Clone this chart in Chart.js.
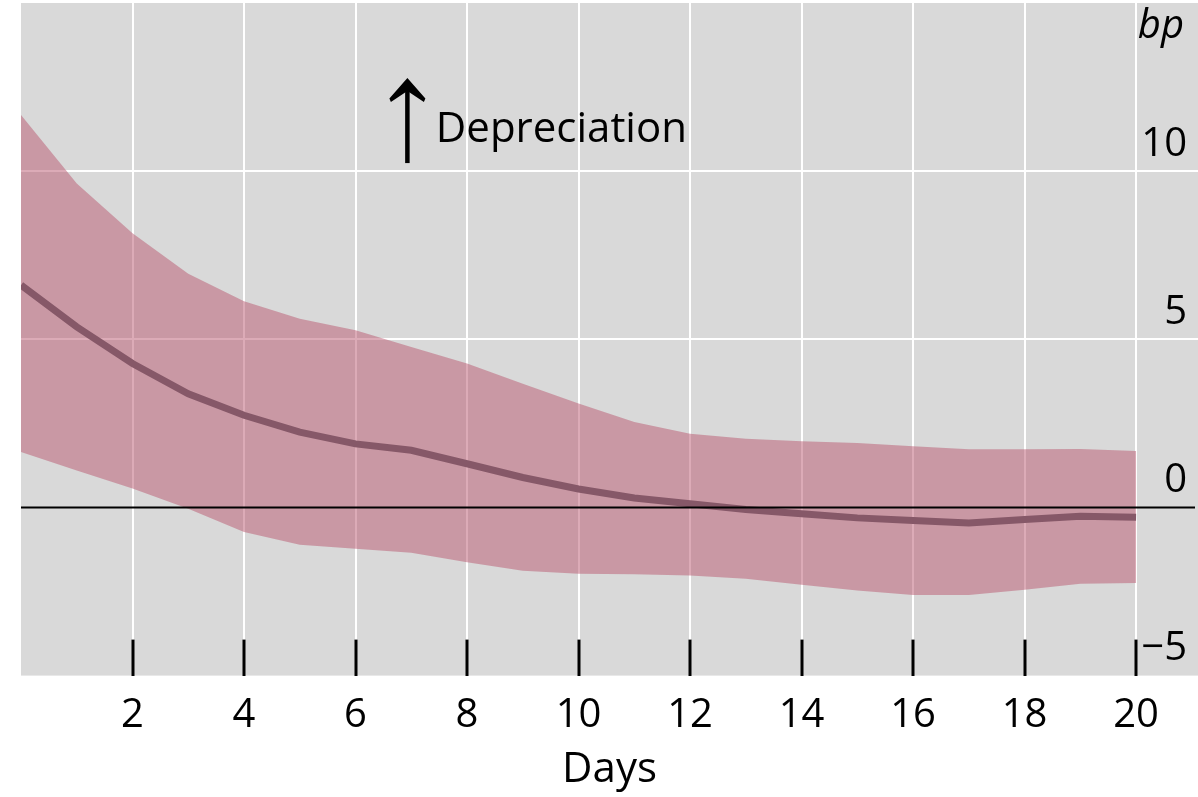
<!DOCTYPE html>
<html><head><meta charset="utf-8">
<script src="https://cdn.jsdelivr.net/npm/chart.js@4.4.1/dist/chart.umd.min.js"></script>
<style>html,body{margin:0;padding:0;background:#fff;} #wrap{width:1198px;height:797px;position:relative;}</style>
</head><body><div id="wrap"><canvas id="c"></canvas></div>
<script>
const days = [0,1,2,3,4,5,6,7,8,9,10,11,12,13,14,15,16,17,18,19,20];
const central = [6.61,5.37,4.28,3.38,2.74,2.24,1.89,1.70,1.30,0.89,0.55,0.28,0.11,-0.06,-0.19,-0.31,-0.39,-0.46,-0.36,-0.26,-0.29];
const upper = [11.67,9.63,8.15,6.95,6.13,5.61,5.27,4.77,4.28,3.68,3.09,2.54,2.19,2.04,1.97,1.92,1.82,1.73,1.73,1.74,1.68];
const lower = [1.65,1.10,0.56,-0.04,-0.73,-1.11,-1.23,-1.35,-1.63,-1.88,-1.97,-1.99,-2.02,-2.12,-2.30,-2.47,-2.60,-2.60,-2.45,-2.27,-2.25];
const xTickValues = [2,4,6,8,10,12,14,16,18,20];
const xTickLabels = ['2','4','6','8','10','12','14','16','18','20'];
const yTickValues = [-5,0,5,10];
const yTickLabels = ['\u22125','0','5','10'];
const xTitle = 'Days';
const unitLabel = 'bp';
const annotationText = 'Depreciation';

Chart.defaults.font.family = '"Open Sans", "Noto Sans", sans-serif';

const decor = {
  id: 'decor',
  beforeDraw(chart) {
    const {ctx, chartArea: a} = chart;
    ctx.save();
    ctx.fillStyle = '#d9d9d9';
    ctx.fillRect(a.left, a.top, chart.width - a.left, a.bottom - a.top);
    ctx.restore();
  },
  afterDatasetsDraw(chart) {
    const {ctx, chartArea: a, scales: {x, y}} = chart;
    const y0 = y.getPixelForValue(0);
    ctx.save();
    ctx.strokeStyle = '#000';
    ctx.fillStyle = '#000';
    ctx.lineWidth = 2;
    ctx.beginPath(); ctx.moveTo(a.left, y0); ctx.lineTo(chart.width - 3, y0); ctx.stroke();
    ctx.font = 'italic 40px "Open Sans"';
    ctx.textAlign = 'right'; ctx.textBaseline = 'middle';
    ctx.fillText(unitLabel, chart.width - 14, y.getPixelForValue(15) + 24);
    const ax = x.getPixelForValue(6.93), yb = y.getPixelForValue(10.24), yt = y.getPixelForValue(12.77);
    ctx.lineWidth = 4.5;
    ctx.beginPath(); ctx.moveTo(ax, yb); ctx.lineTo(ax, yt + 10); ctx.stroke();
    ctx.beginPath();
    ctx.moveTo(ax, yt);
    ctx.lineTo(ax + 18, yt + 20.5);
    ctx.lineTo(ax + 16.5, yt + 24);
    ctx.lineTo(ax, yt + 13);
    ctx.lineTo(ax - 16.5, yt + 24);
    ctx.lineTo(ax - 18, yt + 20.5);
    ctx.closePath();
    ctx.fill();
    ctx.font = '42px "Open Sans"';
    ctx.textAlign = 'left'; ctx.textBaseline = 'alphabetic';
    ctx.fillText(annotationText, x.getPixelForValue(7.44), y.getPixelForValue(10.87));
    ctx.restore();
  }
};

const pts = arr => days.map((d, i) => ({x: d, y: arr[i]}));

new Chart(document.getElementById('c'), {
  type: 'line',
  data: {
    datasets: [
      {data: pts(central), borderColor: '#865868', borderWidth: 7, pointRadius: 0, fill: false, tension: 0},
      {data: pts(upper), borderWidth: 0, borderColor: 'rgba(0,0,0,0)', pointRadius: 0, fill: '+1', backgroundColor: 'rgba(185,87,111,0.5)', tension: 0},
      {data: pts(lower), borderWidth: 0, borderColor: 'rgba(0,0,0,0)', pointRadius: 0, fill: false, tension: 0}
    ]
  },
  options: {
    responsive: true, maintainAspectRatio: false, animation: false,
    layout: {padding: {left: 21, top: 3, right: 0, bottom: 0}},
    plugins: {legend: {display: false}, tooltip: {enabled: false}},
    scales: {
      x: {
        type: 'linear', min: 0, max: 21.11,
        afterBuildTicks: s => { s.ticks = xTickValues.map(v => ({value: v})); },
        grid: {color: '#ffffff', lineWidth: 2, drawTicks: true, tickLength: -36, tickColor: '#000', tickWidth: 3},
        border: {display: false},
        ticks: {padding: 0, color: '#000', autoSkip: false, maxRotation: 0, minRotation: 0,
          font: {size: 40, lineHeight: '152px'}, callback: (v, i) => xTickLabels[i]},
        title: {display: true, text: xTitle, color: '#000', font: {size: 42, lineHeight: 1.2}, padding: {top: -47, bottom: 2}}
      },
      y: {
        type: 'linear', position: 'right', min: -5, max: 15,
        afterBuildTicks: s => { s.ticks = yTickValues.map(v => ({value: v})); },
        grid: {
          color: c => (c.tick && (c.tick.value === 5 || c.tick.value === 10)) ? '#ffffff' : 'rgba(0,0,0,0)',
          lineWidth: 2, drawTicks: false
        },
        border: {display: false},
        ticks: {mirror: true, padding: -11, labelOffset: -27, color: '#000',
          font: {size: 40, lineHeight: 0.1}, callback: (v, i) => yTickLabels[i]}
      }
    }
  },
  plugins: [decor]
});
</script>
</body></html>
